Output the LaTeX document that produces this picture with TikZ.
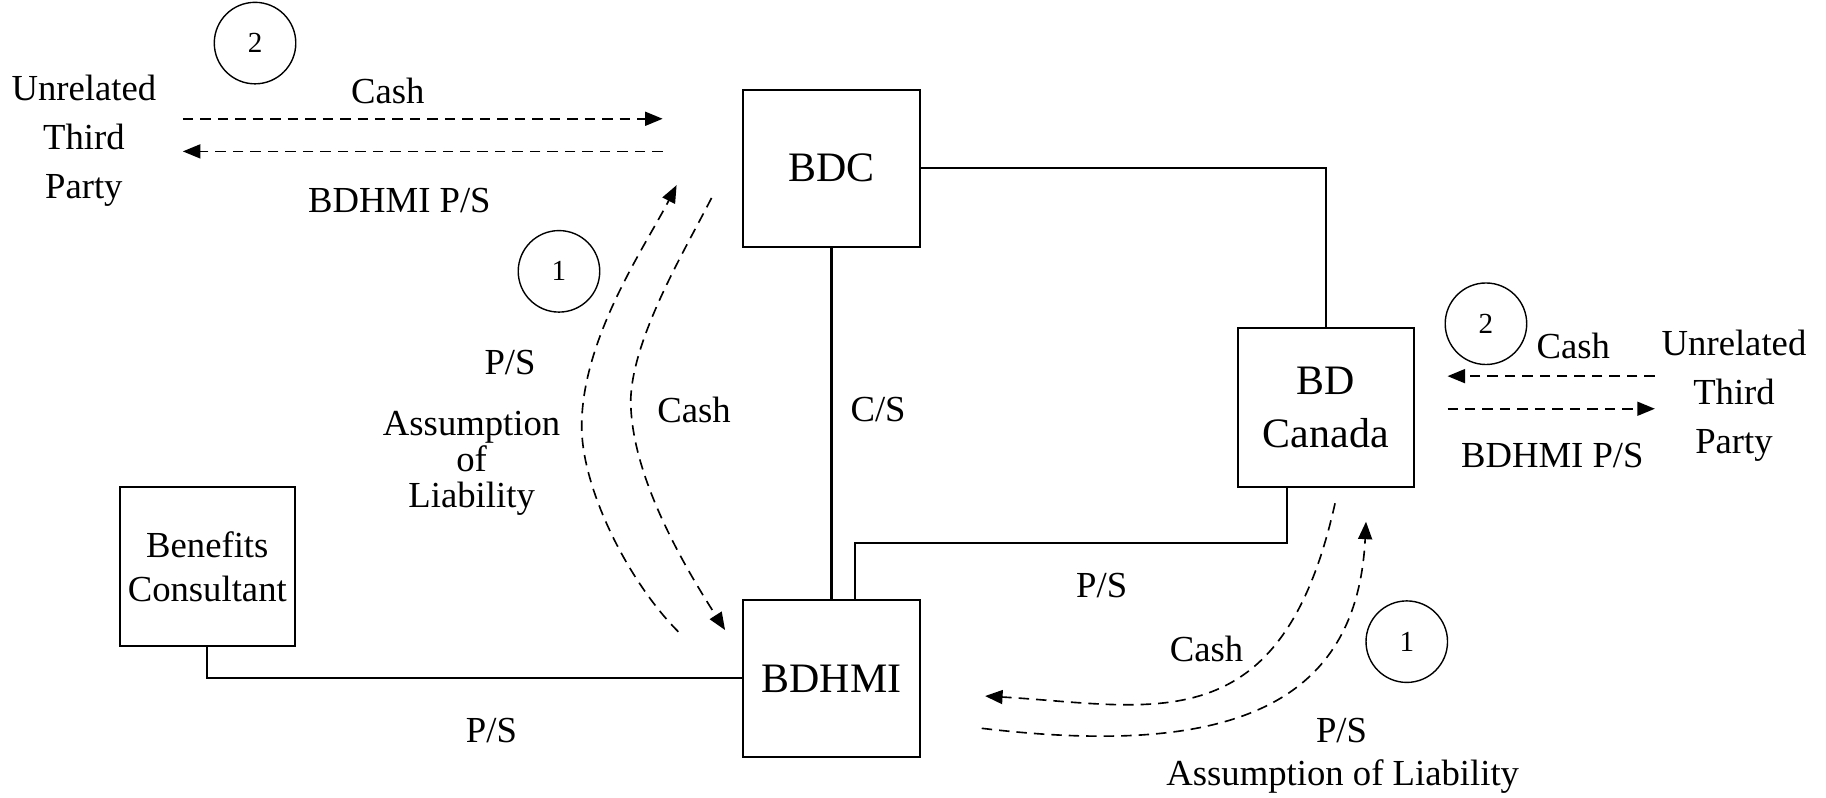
\documentclass[tikz,border=0pt]{standalone}
\usepackage{fontspec}
\setmainfont{Liberation Serif}
\usetikzlibrary{arrows.meta}
\begin{document}
\begin{tikzpicture}[x=1pt,y=-1pt,
  lbl/.style={font=\fontsize{31.5}{42}\selectfont, inner sep=0pt, align=center},
  box/.style={draw, line width=1.8pt, minimum width=152pt, minimum height=135pt, inner sep=0pt, align=center, font=\fontsize{36}{46}\selectfont},
  num/.style={draw, circle, line width=1.2pt, minimum size=70pt, inner sep=0pt, font=\fontsize{25}{25}\selectfont},
  conn/.style={line width=1.8pt},
  flow/.style={line width=1.4pt, dash pattern=on 9pt off 6pt, -{Triangle[length=15pt,width=12pt]}},
  flowplain/.style={line width=1.4pt, dash pattern=on 9pt off 6pt}]
\useasboundingbox (0,0) rectangle (1568,684.4);

% boxes
\node[box] (bdc) at (714,144.5) {BDC};
\node[box] (bdhmi) at (714,582.5) {BDHMI};
\node[box, minimum width=151pt, minimum height=136pt] (bdcan) at (1138.5,350) {BD\\Canada};
\node[box, minimum width=150pt, minimum height=137pt, font=\fontsize{31.5}{38}\selectfont] (ben) at (178,486.5) {Benefits\\Consultant};

% solid connectors
\draw[conn] (bdc.east) -| (bdcan.north);
\draw[conn] (bdc) -- (bdhmi);
\draw[conn] ([xshift=-33.5pt]bdcan.south) -- ++(0,47) -| ([xshift=20pt]bdhmi.north);
\draw[conn] (ben.south) |- (bdhmi.west);

% circles
\node[num] (n2a) at (219,37) {2};
\node[num] (n1a) at (480,233) {1};
\node[num] (n2b) at (1276,278) {2};
\node[num] (n1b) at (1208,551) {1};

% parties
\node[lbl] (utpL) at (72,121) {Unrelated\\Third\\Party};
\node[lbl] (utpR) at (1489,340) {Unrelated\\Third\\Party};

% labels
\node[lbl] (cashTL) at (333,78) {Cash};
\node[lbl] (psTL) at (343,172) {BDHMI P/S};
\node[lbl] (ps1) at (438,311) {P/S};
\node[lbl, font=\fontsize{31.5}{31}\selectfont] (aol1) at (405,398) {Assumption\\of\\Liability};
\node[lbl] (cashM) at (596,352) {Cash};
\node[lbl] (cs) at (754,352) {C/S};
\node[lbl] (psM) at (946,503) {P/S};
\node[lbl] (psBL) at (422,627) {P/S};
\node[lbl] (cashR) at (1351,297) {Cash};
\node[lbl] (psR) at (1333,391) {BDHMI P/S};
\node[lbl] (cashBR) at (1036,557) {Cash};
\node[lbl] (psBR) at (1152,627) {P/S};
\node[lbl] (aol2) at (1153,667) {Assumption of Liability};

% flow coordinates
\coordinate (tA1) at (157,102); \coordinate (tA2) at (569,102);
\coordinate (tB1) at (569,130); \coordinate (tB2) at (157,130);
\coordinate (rA1) at (1421,323); \coordinate (rA2) at (1243,323);
\coordinate (rB1) at (1243,351); \coordinate (rB2) at (1421,351);
\coordinate (lc0) at (582.5,542.5); \coordinate (lcm) at (499.5,366); \coordinate (lc1) at (581,159);
\coordinate (rc0) at (611,170); \coordinate (rcm) at (541.6,343.5); \coordinate (rc1) at (622.6,541);
\coordinate (bc0) at (1146.4,432.2); \coordinate (bc1) at (845.9,597.7);
\coordinate (bp0) at (843,625.4); \coordinate (bp1) at (1173,448);

% flows
\draw[flow] (tA1) -- (tA2);
\draw[flow] (tB1) -- (tB2);
\draw[flow] (rA1) -- (rA2);
\draw[flow] (rB1) -- (rB2);
\draw[flow] (lc0) .. controls (540,500) and (499.5,420) .. (lcm) .. controls (499.5,290) and (555,210) .. (lc1);
\draw[flow] (rc0) .. controls (588,215) and (543,290) .. (rcm) .. controls (541.6,410) and (590,490) .. (rc1);
\draw[flow] (bc0) .. controls (1100,640) and (990,606) .. (bc1);
\draw[flow] (bp0) .. controls (1050,650) and (1165,610) .. (bp1);
\end{tikzpicture}
\end{document}
